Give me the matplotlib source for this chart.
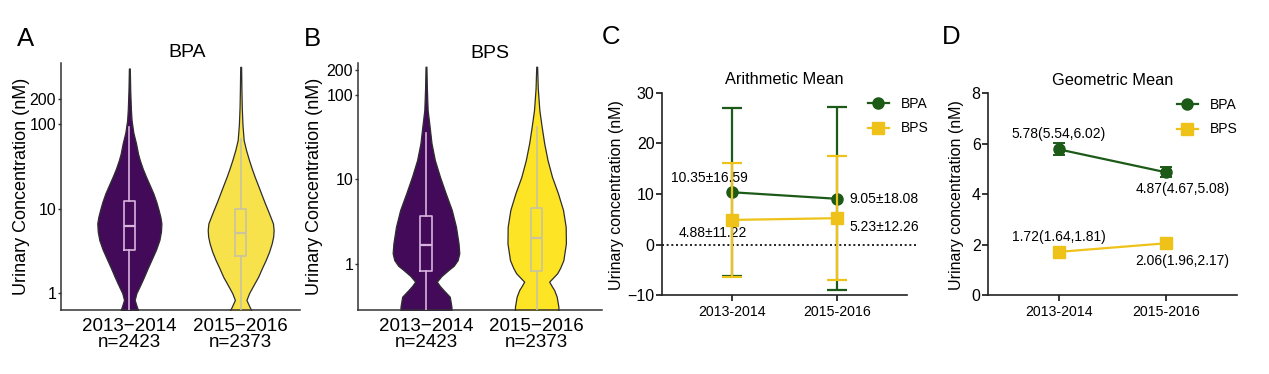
import numpy as np
import matplotlib
matplotlib.use("Agg")
import matplotlib.pyplot as plt
from matplotlib.lines import Line2D

plt.rcParams['font.family'] = ['Liberation Sans', 'DejaVu Sans']

# ---------------- data ----------------
periods_violin = ['2013\u22122014\nn=2423', '2015\u22122016\nn=2373']
periods = ['2013-2014', '2015-2016']

# violin outlines: concentration (nM) and half width (x units)
bpa13_conc = [460, 250, 150, 112, 80, 59.6, 45, 37.8, 30, 24.0, 19, 15.2, 12, 9.68, 8, 6.73, 5.4, 4.28, 3.3, 2.48, 2.0, 1.57, 1.25, 1.0, 0.834, 0.70, 0.634, 0.55]
bpa13_hw = [0.004, 0.008, 0.014, 0.020, 0.036, 0.060, 0.078, 0.094, 0.120, 0.150, 0.184, 0.216, 0.243, 0.263, 0.279, 0.288, 0.284, 0.270, 0.240, 0.198, 0.166, 0.132, 0.098, 0.063, 0.048, 0.066, 0.078, 0.090]
bpa15_conc = [481, 250, 158, 100, 65.2, 50, 37.8, 30, 24.0, 19, 15.2, 12, 9.68, 8, 6.73, 5.61, 4.7, 3.91, 3.1, 2.48, 2.0, 1.57, 1.25, 1.0, 0.834, 0.70, 0.634, 0.55]
bpa15_hw = [0.004, 0.007, 0.010, 0.016, 0.027, 0.048, 0.075, 0.100, 0.126, 0.156, 0.184, 0.214, 0.243, 0.268, 0.290, 0.296, 0.292, 0.279, 0.255, 0.225, 0.192, 0.157, 0.115, 0.075, 0.052, 0.078, 0.094, 0.105]
bps13_conc = [216, 120, 66.4, 42.2, 26.8, 17.0, 10.8, 6.87, 4.36, 2.76, 1.76, 1.34, 1.11, 0.95, 0.849, 0.72, 0.618, 0.55, 0.492, 0.410, 0.313, 0.25]
bps13_hw = [0.004, 0.008, 0.015, 0.033, 0.050, 0.080, 0.126, 0.178, 0.233, 0.271, 0.294, 0.301, 0.286, 0.250, 0.203, 0.140, 0.098, 0.125, 0.158, 0.215, 0.230, 0.232]
bps15_conc = [216, 120, 66.4, 42.2, 26.8, 17.0, 10.8, 6.87, 4.36, 2.76, 1.76, 1.11, 0.90, 0.776, 0.618, 0.55, 0.492, 0.410, 0.313, 0.25]
bps15_hw = [0.004, 0.010, 0.024, 0.045, 0.068, 0.098, 0.138, 0.192, 0.238, 0.262, 0.264, 0.241, 0.212, 0.185, 0.113, 0.135, 0.158, 0.181, 0.196, 0.198]

# box statistics (nM)
bpa_q1 = [3.25, 2.74]
bpa_med = [6.3, 5.17]
bpa_q3 = [12.5, 9.95]
bpa_whishi = [93, 68]
bps_q1 = [0.826, 0.826]
bps_med = [1.66, 2.05]
bps_q3 = [3.73, 4.56]
bps_whishi = [35.8, 42]
whislo_all = [0.1, 0.1]

# arithmetic mean +- SD
bpa_am = [10.35, 9.05]
bpa_sd = [16.59, 18.08]
bps_am = [4.88, 5.23]
bps_sd = [11.22, 12.26]

# geometric mean (95% CI)
bpa_gm = [5.78, 4.87]
bpa_lo = [5.54, 4.67]
bpa_hi = [6.02, 5.08]
bps_gm = [1.72, 2.06]
bps_lo = [1.64, 1.96]
bps_hi = [1.81, 2.17]

# ---------------- style ----------------
PURPLE = '#430A5A'
YELLOW_A = '#F8E24C'
YELLOW_B = '#FDE425'
GREEN = '#1C5A17'
GOLD = '#EFC219'
SPINE = '#333333'

fig = plt.figure(figsize=(12.69, 3.74), dpi=100)
W, H = 1269, 374

def axes_px(x0, x1, ytop, ybot):
    return fig.add_axes([x0 / W, (H - ybot) / H, (x1 - x0) / W, (ybot - ytop) / H])

axA = axes_px(61, 300, 63.3, 310)
axB = axes_px(358, 602, 63, 310)
axC = axes_px(662, 907, 92.7, 295.3)
axD = axes_px(988, 1237, 93.3, 295.3)

def style_violin_axes(ax, ylim, xlim, labx):
    ax.set_yscale('log')
    ax.set_ylim(*ylim)
    ax.set_xlim(*xlim)
    for s in ['top', 'right']:
        ax.spines[s].set_visible(False)
    for s in ['left', 'bottom']:
        ax.spines[s].set_color(SPINE)
        ax.spines[s].set_linewidth(1.1)
    ax.set_yticks([1, 10, 100, 200])
    ax.set_yticklabels(['1', '10', '100', '200'])
    ax.yaxis.set_minor_locator(matplotlib.ticker.NullLocator())
    ax.tick_params(axis='y', labelsize=11.5, length=2.5, width=1.0, color=SPINE, pad=1)
    ax.set_xticks([1, 2])
    ax.set_xticklabels(periods_violin, fontsize=13.5, linespacing=0.9)
    ax.tick_params(axis='x', length=0, pad=6)
    ax.set_ylabel('Urinary Concentration (nM)', fontsize=13)
    ax.yaxis.set_label_coords(labx, 0.5)

def draw_violin(ax, pos, conc, hw, color, boxcol, q1, med, q3, whi, wlo):
    conc = np.array(conc)
    hw = np.array(hw)
    ax.fill_betweenx(conc, pos - hw, pos + hw, facecolor=color, edgecolor='#2e2e2e', linewidth=0.9, zorder=2)
    ax.bxp([{'med': med, 'q1': q1, 'q3': q3, 'whislo': wlo, 'whishi': whi, 'fliers': []}],
           positions=[pos], widths=0.1, showcaps=False, showfliers=False, manage_ticks=False,
           boxprops=dict(color=boxcol, linewidth=1.2),
           whiskerprops=dict(color=boxcol, linewidth=1.2),
           medianprops=dict(color=boxcol, linewidth=1.6), zorder=3)

style_violin_axes(axA, (0.634, 530), (0.386, 2.533), -0.13)
draw_violin(axA, 1, bpa13_conc, bpa13_hw, PURPLE, '#D8B4DC', bpa_q1[0], bpa_med[0], bpa_q3[0], bpa_whishi[0], whislo_all[0])
draw_violin(axA, 2, bpa15_conc, bpa15_hw, YELLOW_A, '#C9C3A0', bpa_q1[1], bpa_med[1], bpa_q3[1], bpa_whishi[1], whislo_all[1])
axA.text(0.527, 1.042, 'BPA', transform=axA.transAxes, ha='center', va='center', fontsize=14)

style_violin_axes(axB, (0.2855, 239), (0.386, 2.59), -0.143)
draw_violin(axB, 1, bps13_conc, bps13_hw, PURPLE, '#D8B4DC', bps_q1[0], bps_med[0], bps_q3[0], bps_whishi[0], whislo_all[0])
draw_violin(axB, 2, bps15_conc, bps15_hw, YELLOW_B, '#C9C3A0', bps_q1[1], bps_med[1], bps_q3[1], bps_whishi[1], whislo_all[1])
axB.text(0.541, 1.04, 'BPS', transform=axB.transAxes, ha='center', va='center', fontsize=14)

def style_mean_axes(ax, ylim, yticks, title, labx):
    ax.set_xlim(-0.66, 1.66)
    ax.set_ylim(*ylim)
    for s in ['top', 'right']:
        ax.spines[s].set_visible(False)
    for s in ['left', 'bottom']:
        ax.spines[s].set_color('#222222')
        ax.spines[s].set_linewidth(1.2)
    ax.set_yticks(yticks)
    ax.tick_params(axis='y', labelsize=11.5, length=4.3, width=1.1, pad=1)
    ax.set_xticks([0, 1])
    ax.set_xticklabels(periods, fontsize=10.2)
    ax.tick_params(axis='x', length=4.3, width=1.1, pad=3)
    ax.set_ylabel('Urinary concentration (nM)', fontsize=11.5)
    ax.yaxis.set_label_coords(labx, 0.497)
    ax.set_title(title, fontsize=11.8, pad=6)

x = np.arange(len(periods))

# C: arithmetic means
style_mean_axes(axC, (-10, 30), [-10, 0, 10, 20, 30], 'Arithmetic Mean', -0.155)
axC.axhline(0, xmin=0, xmax=1.04, color='black', linestyle=(0, (1.2, 1.6)), linewidth=1.2, clip_on=False, zorder=1)
axC.errorbar(x, bpa_am, yerr=bpa_sd, fmt='-o', color=GREEN, markersize=8, linewidth=1.6,
             elinewidth=1.6, capsize=7, capthick=1.6, zorder=3, clip_on=False)
axC.errorbar(x, bps_am, yerr=bps_sd, fmt='-s', color=GOLD, markersize=8, linewidth=1.6,
             elinewidth=1.6, capsize=7, capthick=1.6, zorder=4, clip_on=False)
axC.text(-0.21, 13.1, '10.35\u00b116.59', ha='center', va='center', fontsize=10)
axC.text(-0.175, 2.24, '4.88\u00b111.22', ha='center', va='center', fontsize=10)
axC.text(1.44, 8.95, '9.05\u00b118.08', ha='center', va='center', fontsize=10)
axC.text(1.44, 3.4, '5.23\u00b112.26', ha='center', va='center', fontsize=10)

# D: geometric means
style_mean_axes(axD, (0, 8), [0, 2, 4, 6, 8], 'Geometric Mean', -0.097)
bpa_err = [np.array(bpa_gm) - np.array(bpa_lo), np.array(bpa_hi) - np.array(bpa_gm)]
bps_err = [np.array(bps_gm) - np.array(bps_lo), np.array(bps_hi) - np.array(bps_gm)]
axD.errorbar(x, bpa_gm, yerr=bpa_err, fmt='-o', color=GREEN, markersize=8, linewidth=1.6,
             elinewidth=1.4, capsize=4, capthick=1.4, zorder=3)
axD.errorbar(x, bps_gm, yerr=bps_err, fmt='-s', color=GOLD, markersize=8, linewidth=1.6,
             elinewidth=1.4, capsize=4, capthick=1.4, zorder=4)
axD.text(0.0, 6.38, '5.78(5.54,6.02)', ha='center', va='center', fontsize=10)
axD.text(1.15, 4.2, '4.87(4.67,5.08)', ha='center', va='center', fontsize=10)
axD.text(0.0, 2.32, '1.72(1.64,1.81)', ha='center', va='center', fontsize=10)
axD.text(1.15, 1.37, '2.06(1.96,2.17)', ha='center', va='center', fontsize=10)

handles = [Line2D([], [], color=GREEN, marker='o', markersize=8, linewidth=1.6),
           Line2D([], [], color=GOLD, marker='s', markersize=8, linewidth=1.6)]
for ax, (lx, ly) in [(axC, (868, 97)), (axD, (1176.7, 98))]:
    ax.legend(handles, ['BPA', 'BPS'], loc='upper left', bbox_to_anchor=(lx / W, (H - ly) / H),
              bbox_transform=fig.transFigure, frameon=False, fontsize=10, borderpad=0,
              borderaxespad=0, handlelength=1.5, handletextpad=0.9, labelspacing=0.75)

# panel letters
for letter, px, py in [('A', 26, 39), ('B', 312, 39), ('C', 611, 37.5), ('D', 951, 37.5)]:
    fig.text(px / W, (H - py) / H, letter, ha='center', va='center', fontsize=18.5)

fig.savefig('out.png', dpi=100)
